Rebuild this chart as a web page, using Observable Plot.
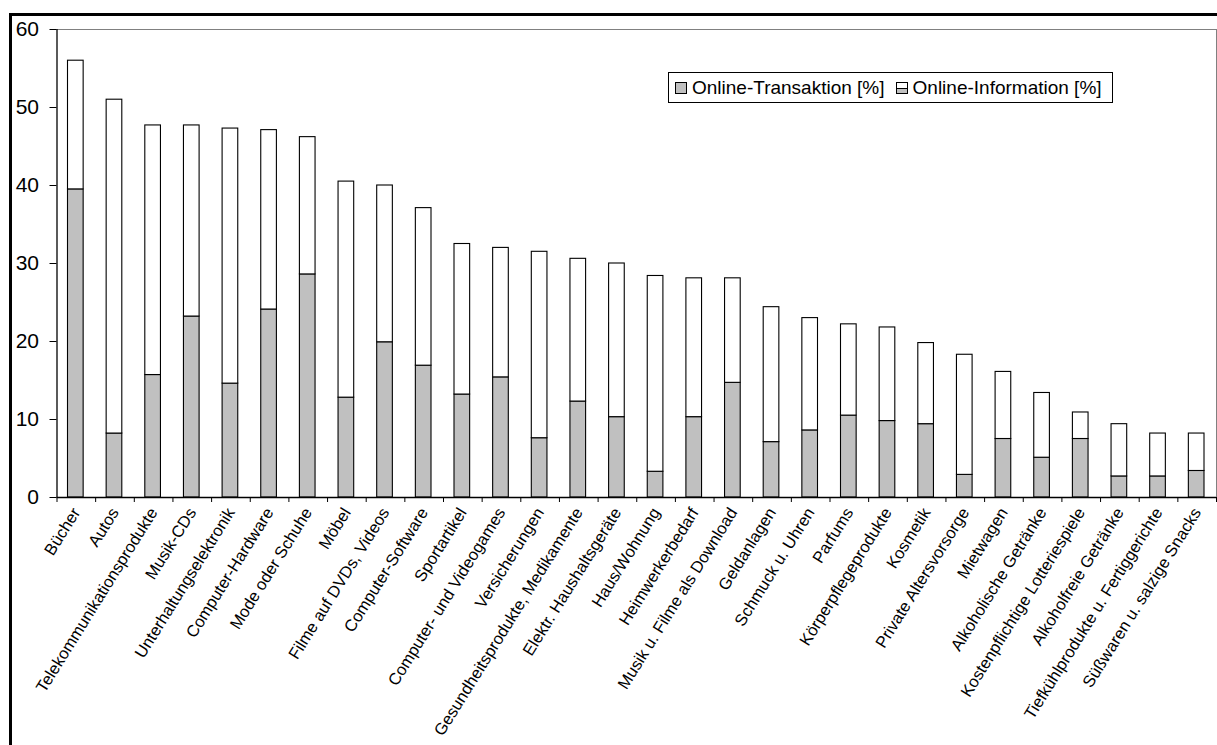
<!DOCTYPE html>
<html>
<head>
<meta charset="utf-8">
<script src="https://cdn.jsdelivr.net/npm/d3@7"></script>
<script src="https://cdn.jsdelivr.net/npm/@observablehq/plot@0.6"></script>
<style>
  html, body { margin: 0; padding: 0; background: #fff; }
  #wrap { position: relative; width: 1217px; height: 745px; overflow: hidden; font-family: "Liberation Sans", Arial, sans-serif; }
  #frame { position: absolute; left: 9px; top: 13px; width: 1300px; height: 800px; border-top: 3px solid #000; border-left: 3px solid #000; pointer-events: none; }
  #chart { position: absolute; left: 0; top: 0; }
  #legend { position: absolute; left: 668px; top: 72px; width: 443px; height: 29px; border: 1px solid #000; background: #fff;
            display: flex; align-items: center; font-size: 19px; color: #000; white-space: nowrap; }
  #legend .sw { display: inline-block; width: 12px; height: 12px; box-sizing: border-box; border: 1px solid #000; margin-right: 5px; }
  #legend .item { display: flex; align-items: center; }
</style>
</head>
<body>
<div id="wrap">
  <div id="chart"></div>
  <div id="frame"></div>
  <div id="legend"></div>
</div>
<script>
const categories = [
  "Bücher", "Autos", "Telekommunikationsprodukte", "Musik-CDs", "Unterhaltungselektronik",
  "Computer-Hardware", "Mode oder Schuhe", "Möbel", "Filme auf DVDs, Videos", "Computer-Software",
  "Sportartikel", "Computer- und Videogames", "Versicherungen", "Gesundheitsprodukte, Medikamente",
  "Elektr. Haushaltsgeräte", "Haus/Wohnung", "Heimwerkerbedarf", "Musik u. Filme als Download",
  "Geldanlagen", "Schmuck u. Uhren", "Parfums", "Körperpflegeprodukte", "Kosmetik",
  "Private Altersvorsorge", "Mietwagen", "Alkoholische Getränke", "Kostenpflichtige Lotteriespiele",
  "Alkoholfreie Getränke", "Tiefkühlprodukte u. Fertiggerichte", "Süßwaren u. salzige Snacks"
];
// Online-Transaktion [%] (lower, grey segment)
const transaktion = [39.5, 8.2, 15.7, 23.2, 14.6, 24.1, 28.6, 12.8, 19.9, 16.9,
  13.2, 15.4, 7.6, 12.3, 10.3, 3.3, 10.3, 14.7, 7.1, 8.6,
  10.5, 9.8, 9.4, 2.9, 7.5, 5.1, 7.5, 2.7, 2.7, 3.4];
// Online-Information [%] (upper, white segment)
const information = [16.5, 42.8, 32.0, 24.5, 32.7, 23.0, 17.6, 27.7, 20.1, 20.2,
  19.3, 16.6, 23.9, 18.3, 19.7, 25.1, 17.8, 13.4, 17.3, 14.4,
  11.7, 12.0, 10.4, 15.4, 8.6, 8.3, 3.4, 6.7, 5.5, 4.8];
const yTicks = [0, 10, 20, 30, 40, 50, 60];
const seriesNames = ["Online-Transaktion [%]", "Online-Information [%]"];

const rows = [];
categories.forEach((c, i) => {
  rows.push({i, cat: c, series: seriesNames[0], value: transaktion[i]});
  rows.push({i, cat: c, series: seriesNames[1], value: information[i]});
});

const W = 1217, H = 745;
const chart = Plot.plot({
  width: W, height: H,
  marginLeft: 56.5, marginRight: 1, marginTop: 29, marginBottom: 248,
  style: {fontFamily: "'Liberation Sans', Arial, sans-serif", color: "#000", background: "transparent", overflow: "visible"},
  x: {type: "linear", domain: [0, categories.length], label: null},
  y: {domain: [0, 60], label: null},
  color: {domain: seriesNames, range: ["#c0c0c0", "#ffffff"]},
  marks: [
    Plot.ruleY([60], {stroke: "#808080", strokeWidth: 1}),
    Plot.ruleX([categories.length], {stroke: "#808080", strokeWidth: 1}),
    Plot.rectY(rows, Plot.stackY({
      x1: "i", x2: d => d.i + 1, y: "value", fill: "series", order: seriesNames,
      stroke: "#000", strokeWidth: 1.1, insetLeft: 11, insetRight: 12
    })),
    Plot.axisY({ticks: yTicks, tickSize: 7, tickPadding: 11, fontSize: 21, tickFormat: d => d, label: null}),
    Plot.axisX({ticks: d3.range(categories.length + 1), tickSize: 5, tickFormat: () => "", label: null}),
    Plot.axisX(d3.range(categories.length).map(i => i + 0.5), {
      tickFormat: v => categories[Math.floor(v)], tickRotate: -58, tickSize: 0, tickPadding: 12, fontSize: 16.5, label: null
    }),
    Plot.ruleX([0], {stroke: "#000", strokeWidth: 1.3}),
    Plot.ruleY([0], {stroke: "#000", strokeWidth: 1.5})
  ]
});
document.getElementById("chart").appendChild(chart);

// legend
const lg = document.getElementById("legend");
lg.innerHTML = `
  <span class="item" style="margin-left:6px"><span class="sw" style="background:#c0c0c0"></span>${seriesNames[0]}</span>
  <span class="item" style="margin-left:11px"><span class="sw" style="background:linear-gradient(#fff 0 45%, #000 45% 55%, #c0c0c0 55% 100%)"></span>${seriesNames[1]}</span>`;
</script>
</body>
</html>
